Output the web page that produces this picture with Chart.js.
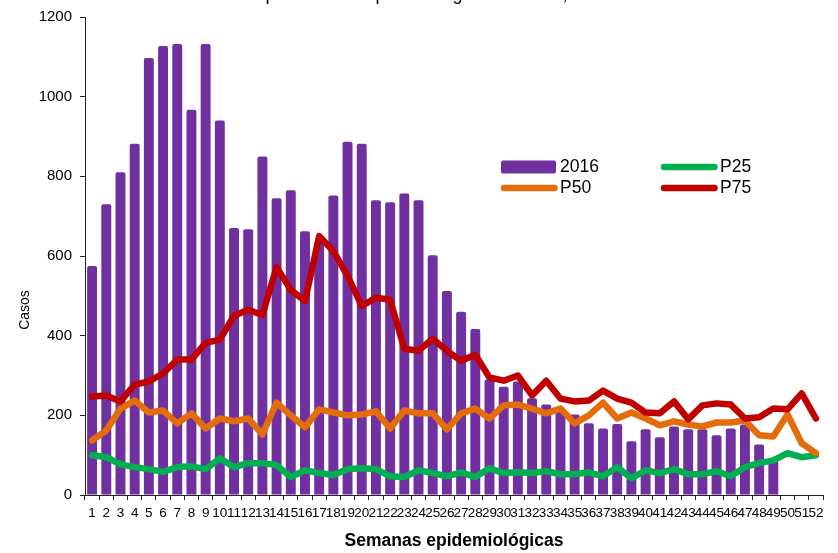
<!DOCTYPE html>
<html lang="es">
<head>
<meta charset="utf-8">
<title>Casos por semana epidemiológica 2016</title>
<script src="https://cdn.jsdelivr.net/npm/chart.js@4/dist/chart.umd.min.js"></script>
<style>
  html, body { margin: 0; padding: 0; background: #ffffff; }
  #wrap { width: 838px; height: 553px; position: relative; }
</style>
</head>
<body>
<div id="wrap"><canvas id="chart" width="838" height="553"></canvas></div>
<script>
// Semanas epidemiológicas (etiquetas del eje X)
const semanas = ["1","2","3","4","5","6","7","8","9","10","11","12","13","14","15","16","17","18",
  "19","20","21","22","23","24","25","26","27","28","29","30","31","32","33","34","35","36",
  "37","38","39","40","41","42","43","44","45","46","47","48","49","50","51","52"];

// Casos notificados en 2016 (sin datos desde la semana 50)
const casos2016 = [575, 730, 810, 882, 1097, 1127, 1132, 967, 1132, 940, 670, 667, 850, 745, 765,
  662, 635, 752, 887, 882, 740, 735, 757, 740, 602, 512, 460, 417, 290, 272, 285, 243, 227, 210,
  202, 180, 167, 178, 135, 165, 145, 172, 165, 165, 150, 167, 177, 127, 85, null, null, null];

// Percentiles históricos por semana
const p25 = [100, 95, 77, 70, 65, 58, 70, 72, 65, 92, 70, 80, 80, 75, 45, 62, 55, 50, 65, 67, 65,
  47, 45, 62, 55, 47, 57, 45, 67, 55, 57, 55, 60, 52, 52, 57, 47, 70, 42, 62, 55, 65, 52, 52, 60,
  47, 70, 80, 87, 105, 95, 100];

const p50 = [137, 162, 217, 237, 207, 212, 180, 205, 167, 192, 185, 192, 152, 232, 200, 170, 215,
  207, 200, 202, 210, 167, 212, 205, 205, 165, 205, 217, 192, 225, 227, 217, 205, 217, 180, 200,
  232, 192, 207, 192, 175, 185, 177, 172, 182, 182, 187, 150, 147, 202, 130, 105];

const p75 = [247, 250, 235, 277, 285, 305, 340, 340, 382, 390, 450, 465, 452, 572, 515, 487, 650,
  612, 550, 475, 495, 490, 367, 362, 392, 362, 337, 352, 295, 287, 300, 250, 287, 242, 235, 237,
  262, 242, 232, 207, 205, 235, 190, 225, 230, 227, 192, 195, 217, 215, 255, 192];

// Marcas del eje Y
const yTicks = [0, 200, 400, 600, 800, 1000, 1200];

const FONT = "'Liberation Sans', Arial, Helvetica, sans-serif";
const COLORS = { bar: '#7030A0', p25: '#00B050', p50: '#E46C0A', p75: '#C00000' };
const LINE_W = 6.5;

// Título, rótulo vertical y leyenda dibujados sobre el lienzo
const extras = {
  id: 'extras',
  afterDraw(chart) {
    const ctx = chart.ctx;
    ctx.save();
    ctx.fillStyle = '#000';

    // título (queda recortado en el borde superior)
    ctx.font = '18px ' + FONT;
    ctx.textAlign = 'center';
    ctx.textBaseline = 'alphabetic';
    ctx.fillText('Comportamiento epidemiológico de casos, 2016', 420, 0);

    // rótulo del eje Y
    ctx.save();
    ctx.translate(25, 310);
    ctx.rotate(-Math.PI / 2);
    ctx.font = '14px ' + FONT;
    ctx.textBaseline = 'middle';
    ctx.fillText('Casos', 0, 0);
    ctx.restore();

    // leyenda en dos columnas
    const ds = chart.data.datasets;
    const items = [
      { d: ds[0], x: 501, y: 167, box: true },
      { d: ds[1], x: 661, y: 167 },
      { d: ds[2], x: 501, y: 188 },
      { d: ds[3], x: 661, y: 188 }
    ];
    ctx.font = '17.5px ' + FONT;
    ctx.textAlign = 'left';
    ctx.textBaseline = 'middle';
    items.forEach(it => {
      if (it.box) {
        ctx.fillStyle = it.d.backgroundColor;
        ctx.beginPath();
        ctx.roundRect(it.x, it.y - 6.5, 55, 13, 2);
        ctx.fill();
      } else {
        ctx.strokeStyle = it.d.borderColor;
        ctx.lineWidth = LINE_W;
        ctx.lineCap = 'round';
        ctx.beginPath();
        ctx.moveTo(it.x + 3, it.y);
        ctx.lineTo(it.x + 53.5, it.y);
        ctx.stroke();
      }
      ctx.fillStyle = '#000';
      ctx.fillText(it.d.label, it.x + 59, it.y + 0.5);
    });
    ctx.restore();
  }
};

const lineStyle = {
  type: 'line',
  borderWidth: LINE_W,
  pointRadius: 0,
  pointHoverRadius: 0,
  tension: 0,
  fill: false,
  borderJoinStyle: 'round',
  borderCapStyle: 'round'
};

new Chart(document.getElementById('chart'), {
  type: 'bar',
  data: {
    labels: semanas,
    datasets: [
      { label: '2016', data: casos2016, backgroundColor: COLORS.bar, borderRadius: 2,
        barPercentage: 0.7, categoryPercentage: 1.0, order: 3 },
      Object.assign({ label: 'P25', data: p25, borderColor: COLORS.p25, backgroundColor: COLORS.p25, order: 2 }, lineStyle),
      Object.assign({ label: 'P50', data: p50, borderColor: COLORS.p50, backgroundColor: COLORS.p50, order: 1 }, lineStyle),
      Object.assign({ label: 'P75', data: p75, borderColor: COLORS.p75, backgroundColor: COLORS.p75, order: 0 }, lineStyle)
    ]
  },
  options: {
    responsive: false,
    animation: false,
    devicePixelRatio: 1,
    layout: { padding: { top: 15, right: 15, bottom: 0, left: 0 } },
    plugins: { legend: { display: false }, tooltip: { enabled: false }, title: { display: false } },
    scales: {
      x: {
        offset: true,
        grid: { display: true, drawOnChartArea: false, drawTicks: true, tickLength: 5, color: '#222', offset: true },
        border: { display: true, color: '#222', width: 1 },
        ticks: { autoSkip: false, maxRotation: 0, minRotation: 0, padding: 5, color: '#000',
                 font: { family: FONT, size: 13.5 } },
        title: { display: true, text: 'Semanas epidemiológicas', color: '#000',
                 font: { family: FONT, size: 17.5, weight: 'bold' }, padding: { top: 4, bottom: 1 } },
        afterFit(scale) { scale.height = 58; }
      },
      y: {
        min: 0,
        max: 1200,
        afterBuildTicks(scale) { scale.ticks = yTicks.map(v => ({ value: v })); },
        grid: { display: true, drawOnChartArea: false, drawTicks: true, tickLength: 5, color: '#222' },
        border: { display: true, color: '#222', width: 1 },
        ticks: { padding: 8, color: '#000', font: { family: FONT, size: 15 },
                 callback: v => String(v) },
        afterFit(scale) { scale.width = 85; }
      }
    }
  },
  plugins: [extras]
});
</script>
</body>
</html>
